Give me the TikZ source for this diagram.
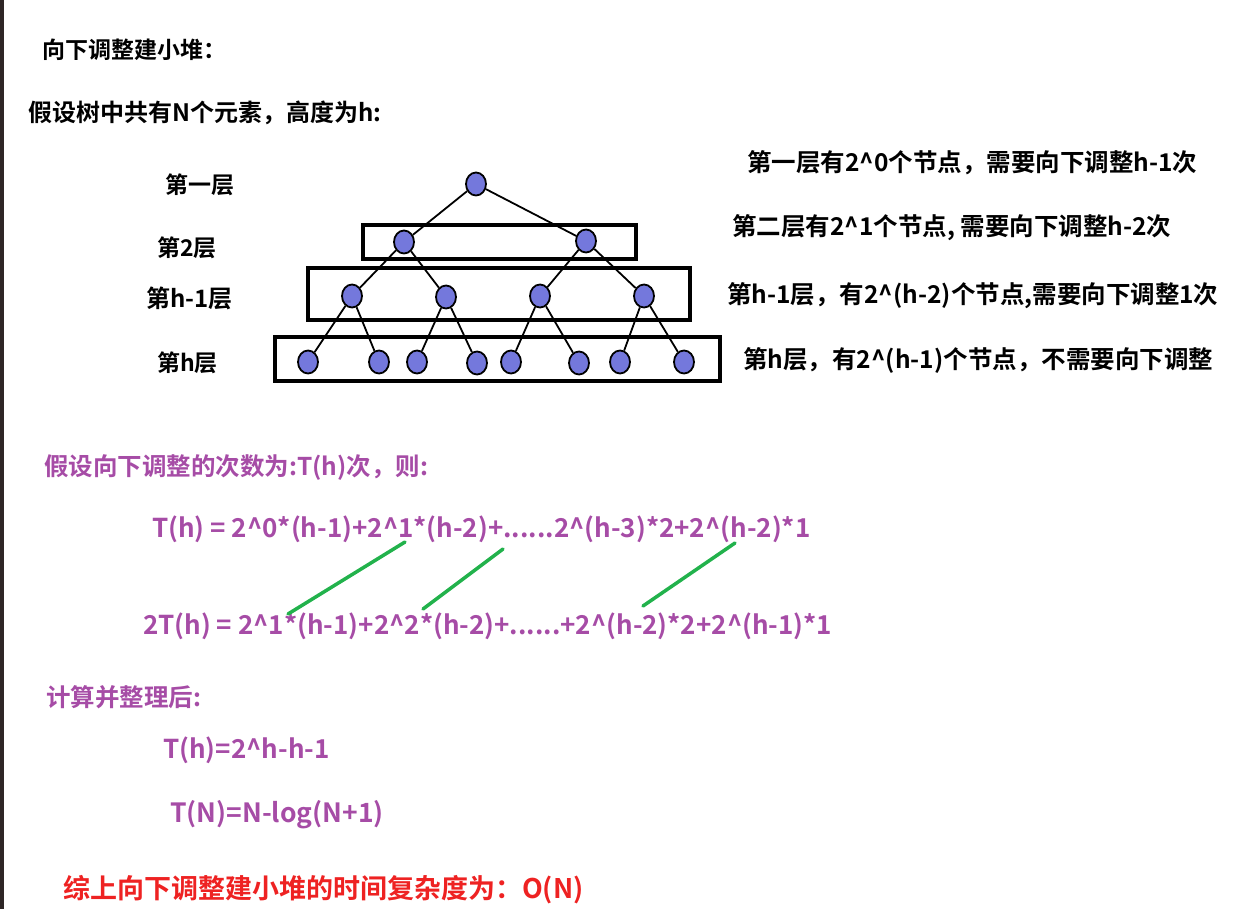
\documentclass[tikz,border=0pt]{standalone}
\usepackage{fontspec}
\usetikzlibrary{shapes.geometric,backgrounds}
\setmainfont{Noto Sans CJK SC}[BoldFont={Noto Sans CJK SC Bold}]
\definecolor{nodeblue}{RGB}{116,120,220}
\definecolor{txtpurple}{RGB}{166,76,166}
\definecolor{lnggreen}{RGB}{34,178,76}
\definecolor{redtxt}{RGB}{238,34,34}
\definecolor{edgebar}{RGB}{46,38,38}
\begin{document}
\begin{tikzpicture}[x=1pt,y=-1pt,
  txt/.style={anchor=west,inner sep=0pt,font=\fontsize{#1}{#1}\selectfont\bfseries},
  txt/.default=22,
  tn/.style={ellipse,draw=black,line width=1.8pt,fill=nodeblue,minimum width=20pt,minimum height=23pt,inner sep=0pt},
  layerbox/.style={draw=black,line width=3.5pt},
  edge/.style={line width=1.8pt},
  grn/.style={draw=lnggreen,line width=3.5pt,line cap=round}]
\useasboundingbox (0,0) rectangle (1248,909);
\fill[edgebar] (0,0) rectangle (4,909);
% headings
\node[txt=23] (h1) at (42,50) {向下调整建小堆：};
\node[txt=24] (h2) at (28,113) {假设树中共有N个元素，高度为h:};
% layer labels
\node[txt=23] (l1) at (165,185) {第一层};
\node[txt=23] (l2) at (157,248) {第2层};
\node[txt=24] (l3) at (146,298) {第h-1层};
\node[txt=23] (l4) at (157,363) {第h层};
% tree nodes
\node[tn] (r) at (476,184) {};
\node[tn] (a) at (404,242) {};
\node[tn] (b) at (586,241) {};
\node[tn] (a1) at (352,296) {};
\node[tn] (a2) at (446,297) {};
\node[tn] (b1) at (540,296) {};
\node[tn] (b2) at (644,296) {};
\node[tn] (c1) at (308,362) {};
\node[tn] (c2) at (379,362) {};
\node[tn] (c3) at (417,362) {};
\node[tn] (c4) at (477,363) {};
\node[tn] (c5) at (511,362) {};
\node[tn] (c6) at (579,363) {};
\node[tn] (c7) at (620,362) {};
\node[tn] (c8) at (684,362) {};
\begin{scope}[on background layer]
\draw[layerbox] (363,225) rectangle (636,259);
\draw[layerbox] (308,268) rectangle (690,320);
\draw[layerbox] (275,337) rectangle (720,381);
\draw[edge] (r) -- (a); \draw[edge] (r) -- (b);
\draw[edge] (a) -- (a1); \draw[edge] (a) -- (a2);
\draw[edge] (b) -- (b1); \draw[edge] (b) -- (b2);
\draw[edge] (a1) -- (c1); \draw[edge] (a1) -- (c2);
\draw[edge] (a2) -- (c3); \draw[edge] (a2) -- (c4);
\draw[edge] (b1) -- (c5); \draw[edge] (b1) -- (c6);
\draw[edge] (b2) -- (c7); \draw[edge] (b2) -- (c8);
\end{scope}
% right descriptions
\node[txt=24.5] (d1) at (747,163) {第一层有2\^{}0个节点，需要向下调整h-1次};
\node[txt=24.5] (d2) at (732,228) {第二层有2\^{}1个节点, 需要向下调整h-2次};
\node[txt=24.5] (d3) at (727,296) {第h-1层，有2\^{}(h-2)个节点,需要向下调整1次};
\node[txt=24.5] (d4) at (743,360) {第h层，有2\^{}(h-1)个节点，不需要向下调整};
% purple part
\begin{scope}[every node/.append style={text=txtpurple}]
\node[txt=24.5] (p1) at (44,468) {假设向下调整的次数为:T(h)次，则:};
\node[txt=26] (e1) at (152,529) {T(h) = 2\^{}0*(h-1)+2\^{}1*(h-2)+......2\^{}(h-3)*2+2\^{}(h-2)*1};
\node[txt=26] (e2) at (143,626) {2T(h) = 2\^{}1*(h-1)+2\^{}2*(h-2)+......+2\^{}(h-2)*2+2\^{}(h-1)*1};
\node[txt=24.5] (p2) at (46,697) {计算并整理后:};
\node[txt=26] (e3) at (163,750) {T(h)=2\^{}h-h-1};
\node[txt=26.5] (e4) at (170,815) {T(N)=N-log(N+1)};
\end{scope}
\coordinate (g1a) at (288,614); \coordinate (g1b) at (405,542);
\coordinate (g2a) at (423,609); \coordinate (g2b) at (503,549);
\coordinate (g3a) at (643,606); \coordinate (g3b) at (735,543);
\draw[grn] (g1a) -- (g1b);
\draw[grn] (g2a) -- (g2b);
\draw[grn] (g3a) -- (g3b);
\node[txt=27,text=redtxt] (fin) at (63,890) {综上向下调整建小堆的时间复杂度为：O(N)};
\end{tikzpicture}
\end{document}
